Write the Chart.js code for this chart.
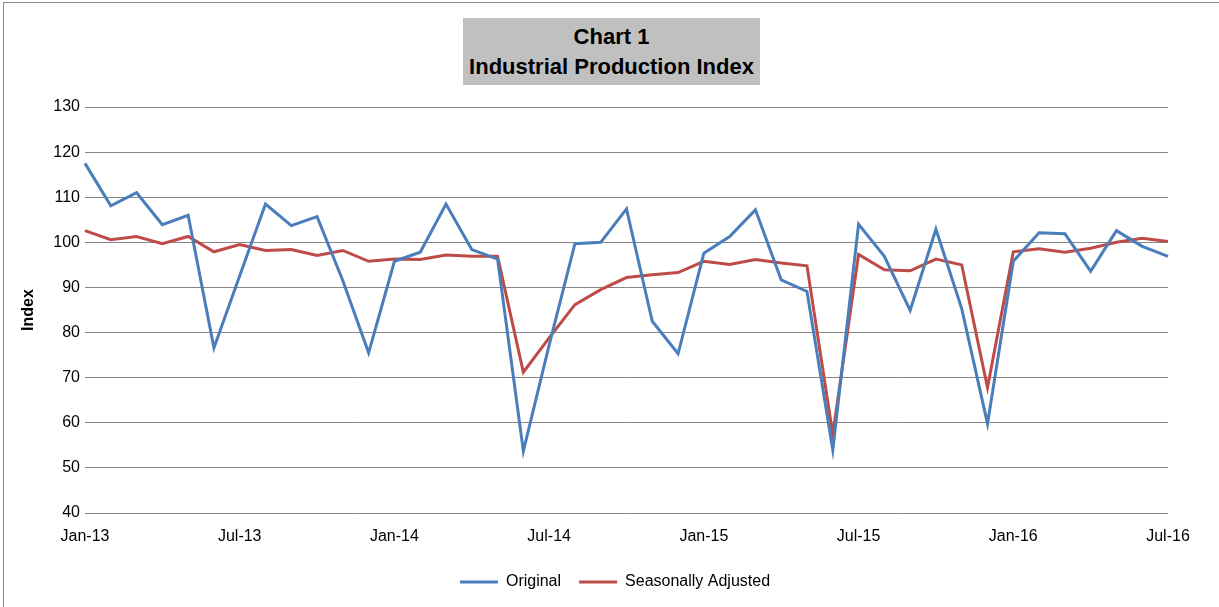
<!DOCTYPE html>
<html>
<head>
<meta charset="utf-8">
<script src="https://cdn.jsdelivr.net/npm/chart.js@4.4.0/dist/chart.umd.min.js"></script>
<style>
    html, body { margin: 0; padding: 0; background: #fff; overflow: hidden; }
    .frame {
        position: absolute; left: 3px; top: 2px; width: 1240px; height: 640px;
        border: 1px solid #8c8c8c; box-sizing: border-box;
    }
    .titulo {
        position: absolute; left: 463px; top: 18px; width: 297px; height: 67px;
        background: #c0c0c0; text-align: center;
        font-family: "Liberation Sans", sans-serif;
        font-weight: bold; font-size: 22px; line-height: 30px; color: #000;
        padding-top: 4px; box-sizing: border-box;
    }
    .chart-container { position: absolute; left: 0; top: 0; width: 1219px; height: 607px; }
</style>
</head>
<body>
<div class="frame"></div>
<div class="chart-container"><canvas id="myChart"></canvas></div>
<div class="titulo">Chart 1<br>Industrial Production Index</div>
<script>
// meses Jan-13 .. Jul-16
const meses = [
    'Jan-13', 'Feb-13', 'Mar-13', 'Apr-13', 'May-13', 'Jun-13', 'Jul-13', 'Aug-13', 'Sep-13', 'Oct-13', 'Nov-13', 'Dec-13',
    'Jan-14', 'Feb-14', 'Mar-14', 'Apr-14', 'May-14', 'Jun-14', 'Jul-14', 'Aug-14', 'Sep-14', 'Oct-14', 'Nov-14', 'Dec-14',
    'Jan-15', 'Feb-15', 'Mar-15', 'Apr-15', 'May-15', 'Jun-15', 'Jul-15', 'Aug-15', 'Sep-15', 'Oct-15', 'Nov-15', 'Dec-15',
    'Jan-16', 'Feb-16', 'Mar-16', 'Apr-16', 'May-16', 'Jun-16', 'Jul-16'
];

const original = [
    117.5, 108.1, 111.0, 103.9, 106.0, 76.6, 92.6, 108.5, 103.7, 105.7, 91.5, 75.5,
    95.8, 97.8, 108.5, 98.4, 96.3, 53.7, 77.2, 99.7, 100.0, 107.4, 82.5, 75.3,
    97.6, 101.3, 107.2, 91.7, 89.1, 54.0, 104.0, 96.9, 84.9, 102.9, 85.3, 59.8,
    95.8, 102.1, 101.9, 93.6, 102.6, 99.1, 96.9
];

const ajustado = [
    102.6, 100.6, 101.3, 99.7, 101.3, 97.9, 99.5, 98.2, 98.4, 97.1, 98.2, 95.8,
    96.3, 96.2, 97.2, 96.9, 96.9, 71.2, 78.8, 86.2, 89.5, 92.2, 92.8, 93.3,
    95.8, 95.1, 96.2, 95.4, 94.8, 57.4, 97.3, 93.9, 93.7, 96.3, 95.0, 67.8,
    97.9, 98.6, 97.8, 98.7, 100.0, 100.9, 100.2
];

const ticksY = [40, 50, 60, 70, 80, 90, 100, 110, 120, 130];

const fuente = "'Liberation Sans', sans-serif";
const azul = '#4a7ebb';
const rojo = '#be4b48';

// la leyenda va centrada en toda la hoja, no solo en el area del grafico
const moverLeyenda = {
    id: 'moverLeyenda',
    afterLayout(chart) {
        const l = chart.legend;
        l.left += 31;
        l.right += 31;
    }
};

const ctx = document.getElementById('myChart').getContext('2d');

window.myChart = new Chart(ctx, {
    type: 'line',
    data: {
        labels: meses,
        datasets: [
            {
                label: 'Original',
                data: original,
                borderColor: azul,
                backgroundColor: azul,
                borderWidth: 3,
                pointRadius: 0,
                tension: 0
            },
            {
                label: 'Seasonally Adjusted',
                data: ajustado,
                borderColor: rojo,
                backgroundColor: rojo,
                borderWidth: 3,
                pointRadius: 0,
                tension: 0
            }
        ]
    },
    plugins: [moverLeyenda],
    options: {
        responsive: true,
        maintainAspectRatio: false,
        animation: false,
        layout: {
            padding: { top: 107, right: 51, bottom: 7, left: 0 }
        },
        plugins: {
            legend: {
                position: 'bottom',
                labels: {
                    font: { family: fuente, size: 16 },
                    color: '#000',
                    usePointStyle: true,
                    pointStyle: 'line',
                    pointStyleWidth: 38,
                    padding: 18
                }
            },
            title: { display: false },
            tooltip: { enabled: false }
        },
        scales: {
            x: {
                grid: { display: false },
                border: { display: false },
                ticks: {
                    autoSkip: false,
                    maxRotation: 0,
                    color: '#000',
                    font: { family: fuente, size: 16 },
                    padding: 6,
                    callback: function (val, i) {
                        return i % 6 === 0 ? meses[i] : '';
                    }
                },
                afterFit: function (scale) { scale.height = 43; }
            },
            y: {
                min: 40,
                max: 130,
                afterBuildTicks: function (scale) {
                    scale.ticks = ticksY.map(v => ({ value: v }));
                },
                grid: { color: '#868686', lineWidth: 1, drawTicks: false },
                border: { display: false },
                ticks: {
                    color: '#000',
                    font: { family: fuente, size: 16 },
                    padding: 5
                },
                title: {
                    display: true,
                    text: 'Index',
                    color: '#000',
                    font: { family: fuente, size: 16, weight: 'bold' },
                    padding: { top: 19, bottom: 0 }
                },
                afterFit: function (scale) { scale.width = 85; }
            }
        }
    }
});
</script>
</body>
</html>
